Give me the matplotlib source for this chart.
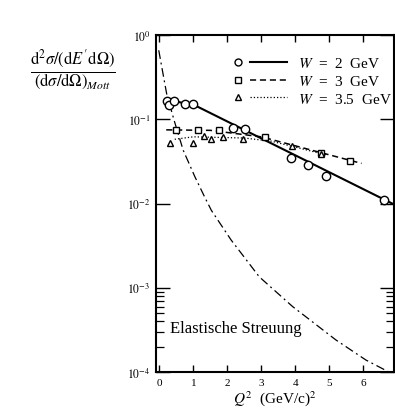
import matplotlib
matplotlib.use("Agg")
import matplotlib.pyplot as plt
from matplotlib.lines import Line2D
from matplotlib.legend_handler import HandlerBase
from matplotlib.ticker import FixedLocator, NullFormatter

plt.rcParams['font.family'] = ['Liberation Serif', 'DejaVu Serif']
plt.rcParams['mathtext.fontset'] = 'stix'

# W = 2 GeV (circles)
q2_w2 = [0.23, 0.29, 0.44, 0.76, 0.98, 2.18, 2.52, 3.87, 4.36, 4.90, 6.62]
r_w2 = [0.166, 0.148, 0.167, 0.153, 0.151, 0.080, 0.076, 0.035, 0.0286, 0.0212, 0.0111]
fit_x_w2 = [0.23, 0.44, 0.76, 0.98, 6.9]
fit_y_w2 = [0.162, 0.165, 0.154, 0.151, 0.0098]

# W = 3 GeV (squares)
q2_w3 = [0.49, 1.13, 1.76, 3.12, 4.75, 5.62]
r_w3 = [0.0745, 0.0756, 0.0745, 0.061, 0.040, 0.032]
fit_x_w3 = [0.2, 1.5, 3.0, 5.95]
fit_y_w3 = [0.075, 0.074, 0.062, 0.030]

# W = 3.5 GeV (triangles)
q2_w35 = [0.32, 0.98, 1.30, 1.52, 1.86, 2.45, 3.90, 4.75]
r_w35 = [0.052, 0.053, 0.064, 0.058, 0.062, 0.058, 0.048, 0.039]
fit_x_w35 = [0.45, 1.0, 2.5, 3.3, 4.9]
fit_y_w35 = [0.058, 0.062, 0.060, 0.055, 0.038]

# elastic scattering
el_x = [-0.02, 0.21, 0.43, 0.70, 1.04, 1.33, 1.53, 2.11, 2.94, 3.92, 5.2, 6.08, 6.76, 6.9]
el_y = [0.66, 0.204, 0.098, 0.043, 0.021, 0.012, 0.0083, 0.0037, 0.00135,
        0.0006, 0.00024, 0.000139, 0.0001, 0.000093]

xticks = [0, 1, 2, 3, 4, 5, 6]
yticks = [1e-4, 1e-3, 1e-2, 1e-1, 1e0]
ytick_labels = [r'$10^{-4}$', r'$10^{-3}$', r'$10^{-2}$', r'$10^{-1}$', r'$10^{0}$']
minor_y = [2e-4, 3e-4, 4e-4, 5e-4, 6e-4, 7e-4, 8e-4, 9e-4]
legend_labels = [r'$W$  =  2  GeV', r'$W$  =  3  GeV', r'$W$  =  3.5  GeV']


class MarkerLineHandler(HandlerBase):
    def create_artists(self, legend, orig_handle, xdescent, ydescent, width,
                       height, fontsize, trans):
        mk, ln = orig_handle
        y = height / 2 - ydescent
        x0 = -xdescent
        a = Line2D([x0 + 0.08 * width], [y], ls='none', marker=mk.get_marker(),
                   mfc='white', mec='black', ms=mk.get_markersize(), mew=1.0)
        b = Line2D([x0 + 0.30 * width, x0 + width], [y, y], color='black',
                   lw=ln.get_linewidth(), ls=ln.get_linestyle())
        if ln.get_linestyle() == '--':
            b.set_dashes((4, 2.5))
        a.set_transform(trans)
        b.set_transform(trans)
        return [a, b]


fig = plt.figure(figsize=(3.95, 4.1), dpi=100)
ax = fig.add_axes([0.395, 0.090, 0.602, 0.822])
ax.set_yscale('log')
ax.set_xlim(-0.1, 6.9)
ax.set_ylim(1e-4, 1e0)

ax.plot(fit_x_w2, fit_y_w2, '-', color='black', lw=1.5)
ax.plot(fit_x_w3, fit_y_w3, '--', color='black', lw=1.1, dashes=(4, 2.5))
ax.plot(fit_x_w35, fit_y_w35, ':', color='black', lw=0.9)
ax.plot(el_x, el_y, '-.', color='black', lw=0.9, dashes=(7, 3, 1.5, 3))

ax.plot(q2_w2, r_w2, 'o', mfc='white', mec='black', ms=6, mew=1.0)
ax.plot(q2_w3, r_w3, 's', mfc='white', mec='black', ms=5, mew=1.0)
ax.plot(q2_w35, r_w35, '^', mfc='white', mec='black', ms=5, mew=1.0)

ax.set_xticks(xticks)
ax.set_xticklabels([str(t) for t in xticks], fontsize=8)
ax.set_yticks(yticks)
ax.set_yticklabels(ytick_labels, fontsize=8.5)
ax.yaxis.set_minor_locator(FixedLocator(minor_y))
ax.yaxis.set_minor_formatter(NullFormatter())
ax.tick_params(axis='both', which='major', direction='in', top=True, right=True,
               width=1.0, pad=4)
ax.tick_params(axis='y', which='major', length=10)
ax.tick_params(axis='x', which='major', length=5)
ax.tick_params(axis='y', which='minor', direction='in', right=True, length=6, width=0.9)
for s in ax.spines.values():
    s.set_linewidth(1.5)

ax.set_xlabel(r'$Q^2$  (GeV/c)$^2$', fontsize=11, labelpad=1)

ax.text(0.3, 3.3e-4, 'Elastische Streuung', fontsize=12, va='center', ha='left')

fig.text(0.185, 0.83,
         r"$\frac{\mathrm{d}^2\sigma/(\mathrm{d}E'\mathrm{d}\Omega)}{(\mathrm{d}\sigma/\mathrm{d}\Omega)_{Mott}}$",
         fontsize=17, ha='center', va='center')

h = [
    (Line2D([], [], ls='none', marker='o', ms=5), Line2D([], [], ls='-', lw=1.5)),
    (Line2D([], [], ls='none', marker='s', ms=4.5), Line2D([], [], ls='--', lw=1.1)),
    (Line2D([], [], ls='none', marker='^', ms=4.5), Line2D([], [], ls=':', lw=0.9)),
]
leg = ax.legend(h, legend_labels, handler_map={tuple: MarkerLineHandler()},
                loc='upper right', frameon=False, fontsize=11, handlelength=3.5,
                handletextpad=0.7, labelspacing=0.25, borderaxespad=0.2,
                bbox_to_anchor=(1.03, 0.965))

fig.savefig('out.png', dpi=100, facecolor='white')
